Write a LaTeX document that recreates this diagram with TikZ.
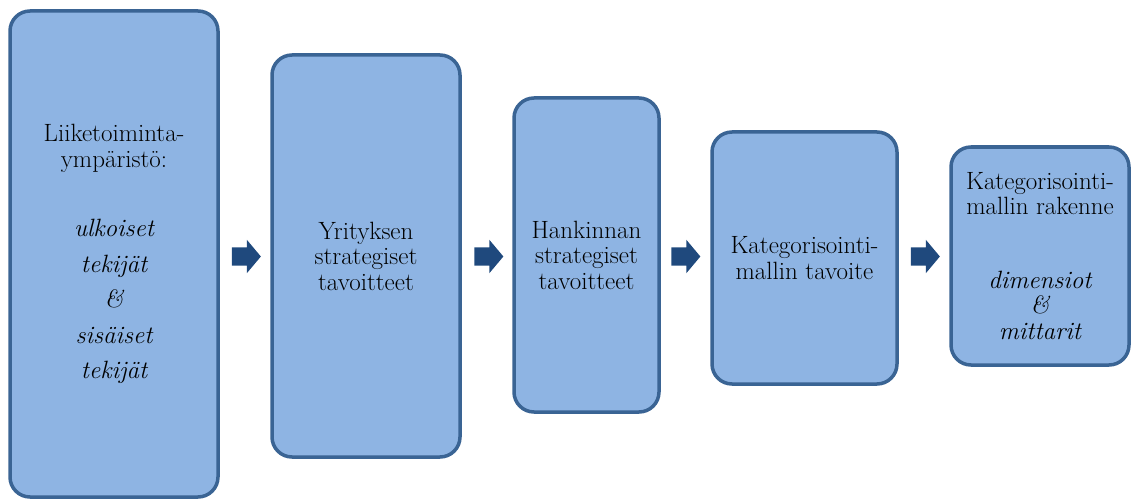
\documentclass[tikz,border=0pt]{standalone}
\usepackage{fontspec}
\usetikzlibrary{shapes.arrows}

\definecolor{boxfill}{HTML}{8EB4E3}
\definecolor{boxline}{HTML}{3A6494}
\definecolor{arrowfill}{HTML}{1F497D}

\tikzset{
  stagebox/.style={draw=boxline, fill=boxfill, line width=3.5pt,
    rounded corners=20pt, inner sep=0pt, align=center,
    font=\fontsize{25}{25.5}\selectfont},
  flowarrow/.style={single arrow, fill=arrowfill, draw=none,
    inner xsep=0pt, inner ysep=9pt, minimum height=29pt,
    single arrow head extend=7.5pt, single arrow tip angle=100}
}

\begin{document}
\begin{tikzpicture}[x=1pt, y=-1pt]
  \useasboundingbox (0,0) rectangle (1132,500);

  % stage boxes
  \node[stagebox, minimum width=208pt, minimum height=486pt] (env) at (114,254)
    {Liiketoiminta-\\ympäristö:\\[44pt]
     \itshape ulkoiset\\[10pt] \itshape tekijät\\[10pt] \itshape \&\\[10pt]
     \itshape sisäiset\\[10pt] \itshape tekijät};
  \node[stagebox, minimum width=188pt, minimum height=402pt] (corp) at (366,256)
    {Yrityksen\\strategiset\\tavoitteet};
  \node[stagebox, minimum width=145pt, minimum height=314pt] (proc) at (586.5,255)
    {Hankinnan\\strategiset\\tavoitteet};
  \node[stagebox, minimum width=185pt, minimum height=252pt] (goal) at (804.5,258)
    {Kategorisointi-\\mallin tavoite};
  \node[stagebox, minimum width=178pt, minimum height=218pt] (struct) at (1040,256)
    {Kategorisointi-\\mallin rakenne\\[48pt]
     \itshape dimensiot\\ \itshape \&\\ \itshape mittarit};

  % arrows between stages
  \node[flowarrow] (a1) at (242.5,256.5) {};
  \node[flowarrow] (a2) at (485,256.5) {};
  \node[flowarrow] (a3) at (682,256.5) {};
  \node[flowarrow] (a4) at (921.5,256.5) {};
\end{tikzpicture}
\end{document}
